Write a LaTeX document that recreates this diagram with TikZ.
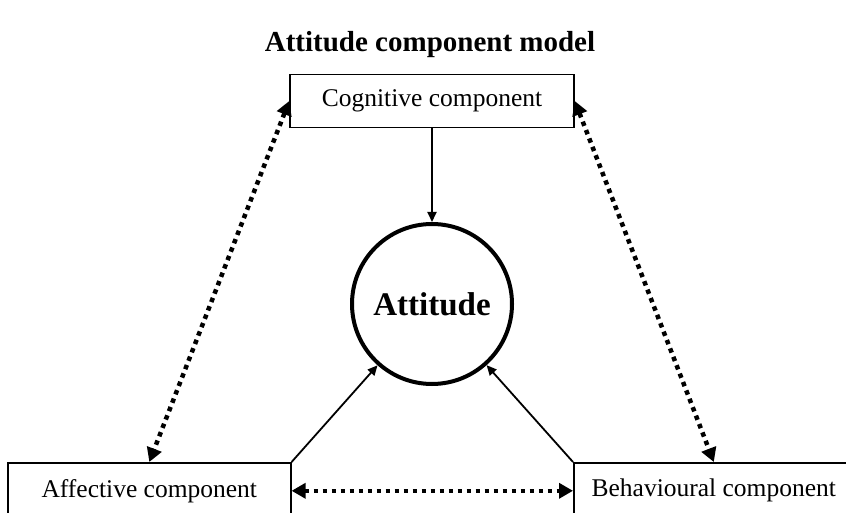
\documentclass[tikz,border=0pt]{standalone}
\usepackage{fontspec}
\setmainfont{Liberation Serif}
\usetikzlibrary{arrows.meta,positioning}

\begin{document}
\begin{tikzpicture}[
    x=1pt, y=1pt,
    comp/.style={rectangle, draw, line width=1.6pt, minimum height=53pt, font=\fontsize{25.5}{30}\selectfont},
    link/.style={line width=1.8pt, -{Triangle[length=10pt,width=9pt]}},
    bond/.style={line width=4.5pt, dash pattern=on 4.5pt off 4.5pt, {Triangle[length=14pt,width=15pt]}-{Triangle[length=14pt,width=15pt]}}
]
\clip (0,0) rectangle (846,512);

\node[font=\bfseries\fontsize{29}{34}\selectfont] (title) at (430,467) {Attitude component model};
\node[comp, minimum width=284pt] (cog) at (432,411) {Cognitive component};
\node[circle, draw, line width=4pt, minimum size=160pt, font=\bfseries\fontsize{33}{40}\selectfont] (att) at (432,208) {Attitude};
\node[comp, minimum width=283pt, minimum height=56pt, anchor=north west] (aff) at (7,50) {Affective component};
\node[comp, minimum width=280pt, minimum height=56pt, anchor=north west] (beh) at (573,50) {Behavioural component};

\draw[link] (cog.south) -- (att);
\draw[link] (aff.north east) -- (att);
\draw[link] (beh.north west) -- (att);

\draw[bond] (cog.west) -- (aff.north);
\draw[bond] (cog.east) -- (beh.north);
\draw[bond] (aff.east) -- (beh.west);

\end{tikzpicture}
\end{document}
